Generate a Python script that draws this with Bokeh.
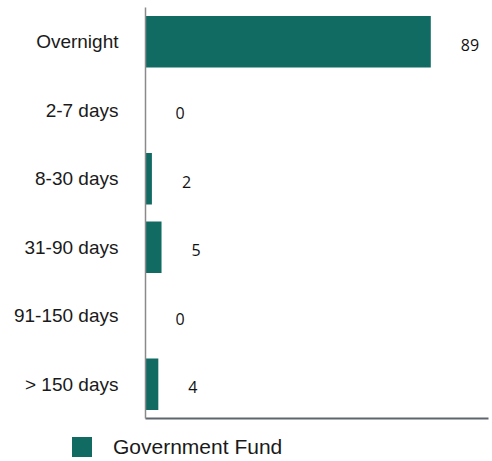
from bokeh.plotting import figure
from bokeh.layouts import column
from bokeh.models import ColumnDataSource, Range1d, FactorRange, Legend, LegendItem, FixedTicker
from bokeh.core.properties import value
from bokeh.embed import file_html
from bokeh.resources import INLINE

categories = ["Overnight", "2-7 days", "8-30 days", "31-90 days", "91-150 days", "> 150 days"]
government_fund = [89, 0, 2, 5, 0, 4]
labels = [str(v) for v in government_fund]
series_name = "Government Fund"
bar_color = "#116b62"

src = ColumnDataSource(dict(cat=categories, val=government_fund, lab=labels))

p = figure(width=492, height=428, output_backend="svg", toolbar_location=None,
           y_range=FactorRange(factors=list(reversed(categories))),
           x_range=Range1d(0, 107),
           min_border_left=145, min_border_right=4, min_border_top=7, min_border_bottom=10)
p.frame_align = False

bars = p.hbar(y="cat", right="val", left=0, height=0.75, source=src,
              fill_color=bar_color, line_color=None)
p.text(x="val", y="cat", text="lab", source=src, x_offset=30, y_offset=3,
       text_align="left", text_baseline="middle", text_font=value("Open Sans"),
       text_font_size="16px", text_color="#111111")

p.outline_line_color = None
p.grid.visible = False
p.background_fill_color = "white"
p.border_fill_color = "white"

ya = p.yaxis[0]
ya.major_tick_line_color = None
ya.minor_tick_line_color = None
ya.axis_line_color = "#8a8a8a"
ya.axis_line_width = 1.5
ya.major_label_standoff = 21
ya.major_label_text_font = "Liberation Sans"
ya.major_label_text_font_size = "19px"
ya.major_label_text_color = "#1a1a1a"

xa = p.xaxis[0]
xa.ticker = FixedTicker(ticks=[])
xa.major_tick_line_color = None
xa.minor_tick_line_color = None
xa.major_tick_out = 0
xa.major_tick_in = 0
xa.minor_tick_out = 0
xa.major_label_standoff = 0
xa.axis_line_color = "#5f656c"
xa.axis_line_width = 2

# legend strip below the chart
lg = figure(width=492, height=33, output_backend="svg", toolbar_location=None,
            x_range=Range1d(0, 1), y_range=Range1d(0, 1),
            min_border_left=0, min_border_right=0, min_border_top=0, min_border_bottom=0,
            x_axis_location=None, y_axis_location=None)
lg.frame_align = False
lg.outline_line_color = None
lg.grid.visible = False
# swatch renderer placed outside the visible range; only its legend glyph shows
swatch = lg.hbar(y=[-5], right=[0.5], left=0, height=0.1, fill_color=bar_color, line_color=None)

legend = Legend(items=[LegendItem(label=series_name, renderers=[swatch])],
                location=(69, 2), orientation="horizontal",
                glyph_width=25, glyph_height=25, label_height=25,
                label_standoff=19, padding=0, margin=0, spacing=0,
                border_line_color=None, background_fill_alpha=0,
                label_text_font="Liberation Sans", label_text_font_size="21px",
                label_text_color="#1a1a1a", label_text_baseline="middle")
lg.add_layout(legend, "center")

layout = column(p, lg, spacing=0)
open("out.html", "w").write(file_html(layout, INLINE))
